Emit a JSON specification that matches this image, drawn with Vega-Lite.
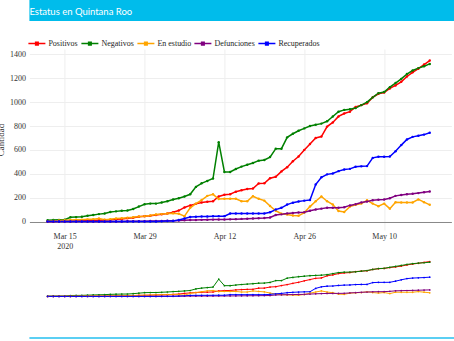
{
  "$schema": "https://vega.github.io/schema/vega-lite/v6.json",
  "padding": {"left": -3.6, "top": 0, "right": 0, "bottom": 0},
  "background": "white",
  "spacing": 13,
  "align": "none",
  "config": {
    "view": {"stroke": null},
    "font": "Liberation Serif"
  },
  "datasets": {
    "cases": [
      {"date": "2020-03-12T00:00:00", "Positivos": 0, "Negativos": 10, "En estudio": 3, "Defunciones": 0, "Recuperados": 0},
      {"date": "2020-03-13T00:00:00", "Positivos": 1, "Negativos": 12, "En estudio": 5, "Defunciones": 0, "Recuperados": 0},
      {"date": "2020-03-14T00:00:00", "Positivos": 2, "Negativos": 14, "En estudio": 8, "Defunciones": 0, "Recuperados": 0},
      {"date": "2020-03-15T00:00:00", "Positivos": 2, "Negativos": 15, "En estudio": 10, "Defunciones": 0, "Recuperados": 0},
      {"date": "2020-03-16T00:00:00", "Positivos": 3, "Negativos": 35, "En estudio": 12, "Defunciones": 0, "Recuperados": 0},
      {"date": "2020-03-17T00:00:00", "Positivos": 5, "Negativos": 37, "En estudio": 15, "Defunciones": 0, "Recuperados": 0},
      {"date": "2020-03-18T00:00:00", "Positivos": 6, "Negativos": 40, "En estudio": 15, "Defunciones": 0, "Recuperados": 0},
      {"date": "2020-03-19T00:00:00", "Positivos": 8, "Negativos": 48, "En estudio": 18, "Defunciones": 0, "Recuperados": 0},
      {"date": "2020-03-20T00:00:00", "Positivos": 9, "Negativos": 55, "En estudio": 20, "Defunciones": 0, "Recuperados": 0},
      {"date": "2020-03-21T00:00:00", "Positivos": 10, "Negativos": 62, "En estudio": 25, "Defunciones": 0, "Recuperados": 0},
      {"date": "2020-03-22T00:00:00", "Positivos": 12, "Negativos": 68, "En estudio": 15, "Defunciones": 0, "Recuperados": 0},
      {"date": "2020-03-23T00:00:00", "Positivos": 14, "Negativos": 80, "En estudio": 20, "Defunciones": 1, "Recuperados": 0},
      {"date": "2020-03-24T00:00:00", "Positivos": 18, "Negativos": 85, "En estudio": 25, "Defunciones": 1, "Recuperados": 0},
      {"date": "2020-03-25T00:00:00", "Positivos": 22, "Negativos": 90, "En estudio": 28, "Defunciones": 1, "Recuperados": 0},
      {"date": "2020-03-26T00:00:00", "Positivos": 28, "Negativos": 92, "En estudio": 32, "Defunciones": 2, "Recuperados": 0},
      {"date": "2020-03-27T00:00:00", "Positivos": 32, "Negativos": 105, "En estudio": 35, "Defunciones": 2, "Recuperados": 0},
      {"date": "2020-03-28T00:00:00", "Positivos": 40, "Negativos": 125, "En estudio": 42, "Defunciones": 3, "Recuperados": 0},
      {"date": "2020-03-29T00:00:00", "Positivos": 44, "Negativos": 145, "En estudio": 45, "Defunciones": 3, "Recuperados": 0},
      {"date": "2020-03-30T00:00:00", "Positivos": 48, "Negativos": 150, "En estudio": 50, "Defunciones": 4, "Recuperados": 0},
      {"date": "2020-03-31T00:00:00", "Positivos": 55, "Negativos": 150, "En estudio": 58, "Defunciones": 4, "Recuperados": 0},
      {"date": "2020-04-01T00:00:00", "Positivos": 60, "Negativos": 160, "En estudio": 62, "Defunciones": 5, "Recuperados": 2},
      {"date": "2020-04-02T00:00:00", "Positivos": 68, "Negativos": 170, "En estudio": 68, "Defunciones": 6, "Recuperados": 4},
      {"date": "2020-04-03T00:00:00", "Positivos": 78, "Negativos": 185, "En estudio": 70, "Defunciones": 7, "Recuperados": 5},
      {"date": "2020-04-04T00:00:00", "Positivos": 92, "Negativos": 195, "En estudio": 65, "Defunciones": 8, "Recuperados": 12},
      {"date": "2020-04-05T00:00:00", "Positivos": 118, "Negativos": 210, "En estudio": 45, "Defunciones": 10, "Recuperados": 25},
      {"date": "2020-04-06T00:00:00", "Positivos": 135, "Negativos": 228, "En estudio": 115, "Defunciones": 12, "Recuperados": 38},
      {"date": "2020-04-07T00:00:00", "Positivos": 148, "Negativos": 290, "En estudio": 150, "Defunciones": 13, "Recuperados": 40},
      {"date": "2020-04-08T00:00:00", "Positivos": 160, "Negativos": 320, "En estudio": 180, "Defunciones": 14, "Recuperados": 42},
      {"date": "2020-04-09T00:00:00", "Positivos": 165, "Negativos": 340, "En estudio": 215, "Defunciones": 15, "Recuperados": 42},
      {"date": "2020-04-10T00:00:00", "Positivos": 170, "Negativos": 360, "En estudio": 228, "Defunciones": 16, "Recuperados": 44},
      {"date": "2020-04-11T00:00:00", "Positivos": 210, "Negativos": 665, "En estudio": 188, "Defunciones": 17, "Recuperados": 45},
      {"date": "2020-04-12T00:00:00", "Positivos": 225, "Negativos": 415, "En estudio": 190, "Defunciones": 17, "Recuperados": 45},
      {"date": "2020-04-13T00:00:00", "Positivos": 228, "Negativos": 415, "En estudio": 190, "Defunciones": 18, "Recuperados": 67},
      {"date": "2020-04-14T00:00:00", "Positivos": 250, "Negativos": 440, "En estudio": 190, "Defunciones": 20, "Recuperados": 67},
      {"date": "2020-04-15T00:00:00", "Positivos": 262, "Negativos": 460, "En estudio": 170, "Defunciones": 22, "Recuperados": 67},
      {"date": "2020-04-16T00:00:00", "Positivos": 272, "Negativos": 475, "En estudio": 170, "Defunciones": 24, "Recuperados": 67},
      {"date": "2020-04-17T00:00:00", "Positivos": 276, "Negativos": 490, "En estudio": 212, "Defunciones": 26, "Recuperados": 67},
      {"date": "2020-04-18T00:00:00", "Positivos": 318, "Negativos": 510, "En estudio": 190, "Defunciones": 28, "Recuperados": 67},
      {"date": "2020-04-19T00:00:00", "Positivos": 320, "Negativos": 515, "En estudio": 175, "Defunciones": 30, "Recuperados": 67},
      {"date": "2020-04-20T00:00:00", "Positivos": 362, "Negativos": 540, "En estudio": 130, "Defunciones": 34, "Recuperados": 78},
      {"date": "2020-04-21T00:00:00", "Positivos": 375, "Negativos": 610, "En estudio": 90, "Defunciones": 55, "Recuperados": 100},
      {"date": "2020-04-22T00:00:00", "Positivos": 420, "Negativos": 610, "En estudio": 65, "Defunciones": 60, "Recuperados": 115},
      {"date": "2020-04-23T00:00:00", "Positivos": 455, "Negativos": 705, "En estudio": 58, "Defunciones": 68, "Recuperados": 142},
      {"date": "2020-04-24T00:00:00", "Positivos": 505, "Negativos": 735, "En estudio": 50, "Defunciones": 72, "Recuperados": 158},
      {"date": "2020-04-25T00:00:00", "Positivos": 545, "Negativos": 760, "En estudio": 48, "Defunciones": 75, "Recuperados": 168},
      {"date": "2020-04-26T00:00:00", "Positivos": 600, "Negativos": 780, "En estudio": 75, "Defunciones": 78, "Recuperados": 175},
      {"date": "2020-04-27T00:00:00", "Positivos": 650, "Negativos": 800, "En estudio": 125, "Defunciones": 90, "Recuperados": 180},
      {"date": "2020-04-28T00:00:00", "Positivos": 700, "Negativos": 810, "En estudio": 170, "Defunciones": 100, "Recuperados": 310},
      {"date": "2020-04-29T00:00:00", "Positivos": 712, "Negativos": 820, "En estudio": 210, "Defunciones": 108, "Recuperados": 370},
      {"date": "2020-04-30T00:00:00", "Positivos": 795, "Negativos": 840, "En estudio": 170, "Defunciones": 115, "Recuperados": 395},
      {"date": "2020-05-01T00:00:00", "Positivos": 830, "Negativos": 880, "En estudio": 142, "Defunciones": 115, "Recuperados": 402},
      {"date": "2020-05-02T00:00:00", "Positivos": 880, "Negativos": 920, "En estudio": 88, "Defunciones": 116, "Recuperados": 422},
      {"date": "2020-05-03T00:00:00", "Positivos": 905, "Negativos": 935, "En estudio": 80, "Defunciones": 120, "Recuperados": 436},
      {"date": "2020-05-04T00:00:00", "Positivos": 920, "Negativos": 940, "En estudio": 125, "Defunciones": 135, "Recuperados": 441},
      {"date": "2020-05-05T00:00:00", "Positivos": 960, "Negativos": 950, "En estudio": 140, "Defunciones": 145, "Recuperados": 458},
      {"date": "2020-05-06T00:00:00", "Positivos": 975, "Negativos": 975, "En estudio": 150, "Defunciones": 160, "Recuperados": 462},
      {"date": "2020-05-07T00:00:00", "Positivos": 990, "Negativos": 1000, "En estudio": 178, "Defunciones": 168, "Recuperados": 464},
      {"date": "2020-05-08T00:00:00", "Positivos": 1040, "Negativos": 1040, "En estudio": 150, "Defunciones": 178, "Recuperados": 533},
      {"date": "2020-05-09T00:00:00", "Positivos": 1070, "Negativos": 1075, "En estudio": 128, "Defunciones": 182, "Recuperados": 542},
      {"date": "2020-05-10T00:00:00", "Positivos": 1080, "Negativos": 1085, "En estudio": 150, "Defunciones": 184, "Recuperados": 542},
      {"date": "2020-05-11T00:00:00", "Positivos": 1115, "Negativos": 1125, "En estudio": 108, "Defunciones": 195, "Recuperados": 545},
      {"date": "2020-05-12T00:00:00", "Positivos": 1140, "Negativos": 1160, "En estudio": 162, "Defunciones": 215, "Recuperados": 589},
      {"date": "2020-05-13T00:00:00", "Positivos": 1170, "Negativos": 1195, "En estudio": 160, "Defunciones": 222, "Recuperados": 640},
      {"date": "2020-05-14T00:00:00", "Positivos": 1215, "Negativos": 1235, "En estudio": 160, "Defunciones": 228, "Recuperados": 687},
      {"date": "2020-05-15T00:00:00", "Positivos": 1250, "Negativos": 1265, "En estudio": 160, "Defunciones": 232, "Recuperados": 709},
      {"date": "2020-05-16T00:00:00", "Positivos": 1280, "Negativos": 1285, "En estudio": 185, "Defunciones": 238, "Recuperados": 718},
      {"date": "2020-05-17T00:00:00", "Positivos": 1315, "Negativos": 1300, "En estudio": 162, "Defunciones": 245, "Recuperados": 728},
      {"date": "2020-05-18T00:00:00", "Positivos": 1348, "Negativos": 1320, "En estudio": 140, "Defunciones": 251, "Recuperados": 743}
    ]
  },
  "vconcat": [
    {
      "width": 458,
      "height": 21,
      "data": {"values": [{"t": ""}]},
      "mark": {"type": "text", "opacity": 0},
      "encoding": {"text": {"field": "t"}},
      "view": {"fill": "#00BCEB", "stroke": null},
      "title": {
        "text": "Estatus en Quintana Roo",
        "anchor": "start",
        "frame": "group",
        "orient": "top",
        "offset": -16,
        "baseline": "top",
        "color": "white",
        "font": "Lato",
        "fontSize": 9.5,
        "fontWeight": "normal"
      }
    },
    {
      "bounds": "flush",
      "spacing": 29,
      "resolve": {"scale": {"color": "independent"}},
      "vconcat": [
        {
          "width": 422,
          "height": 181,
          "data": {"name": "cases"},
          "transform": [
            {"fold": ["Positivos", "Negativos", "En estudio", "Defunciones", "Recuperados"], "as": ["series", "value"]}
          ],
          "mark": {"type": "line", "strokeWidth": 1.5, "point": {"filled": true, "size": 6}},
          "encoding": {
            "x": {
              "field": "date",
              "type": "temporal",
              "scale": {"domain": ["2020-03-08T19:24:00", "2020-05-21T19:00:00"]},
              "axis": {
                "title": null,
                "values": ["2020-03-15T00:00:00", "2020-03-29T00:00:00", "2020-04-12T00:00:00", "2020-04-26T00:00:00", "2020-05-10T00:00:00"],
                "labelExpr": "month(datum.value) == 2 && date(datum.value) == 15 ? ['Mar 15', '2020'] : timeFormat(datum.value, '%b ') + date(datum.value)",
                "grid": true,
                "gridColor": "#eeeeee",
                "ticks": false,
                "domain": false,
                "labelFont": "Liberation Serif",
                "labelFontSize": 8,
                "labelColor": "#333333",
                "labelPadding": 3,
                "labelLineHeight": 9.7,
                "labelFlush": false,
                "labelOverlap": false
              }
            },
            "y": {
              "field": "value",
              "type": "quantitative",
              "scale": {"domain": [-71, 1445], "nice": false, "zero": false},
              "axis": {
                "values": [0, 200, 400, 600, 800, 1000, 1200, 1400],
                "tickCount": 8,
                "format": "d",
                "labelOverlap": false,
                "labelFlush": false,
                "grid": true,
                "gridColor": {"condition": {"test": "datum.value === 0", "value": "#888888"}, "value": "#eeeeee"},
                "ticks": false,
                "domain": false,
                "labelFont": "Liberation Serif",
                "labelFontSize": 8,
                "labelColor": "#333333",
                "labelPadding": 4,
                "title": "Cantidad",
                "titleFont": "Liberation Serif",
                "titleFontSize": 9,
                "titleFontWeight": "normal",
                "titleColor": "#333333",
                "titlePadding": 4
              }
            },
            "color": {
              "field": "series",
              "type": "nominal",
              "scale": {
                "domain": ["Positivos", "Negativos", "En estudio", "Defunciones", "Recuperados"],
                "range": ["#FF0000", "#008000", "#FFA500", "#800080", "#0000FF"]
              },
              "legend": {
                "orient": "none",
                "legendX": -2,
                "legendY": -15,
                "direction": "horizontal",
                "title": null,
                "padding": 0,
                "labelFont": "Liberation Serif",
                "labelFontSize": 8,
                "labelColor": "#222222",
                "symbolType": "M-1,0L1,0M-0.15,-0.15L0.15,-0.15L0.15,0.15L-0.15,0.15Z",
                "symbolSize": 289,
                "symbolStrokeWidth": 1.5,
                "labelOffset": 2,
                "columnPadding": 0
              }
            }
          }
        },
        {
          "width": 422,
          "height": 60,
          "data": {"name": "cases"},
          "transform": [
            {"fold": ["Positivos", "Negativos", "En estudio", "Defunciones", "Recuperados"], "as": ["series", "value"]}
          ],
          "mark": {"type": "line", "strokeWidth": 1, "point": {"filled": true, "size": 3}},
          "encoding": {
            "x": {
              "field": "date",
              "type": "temporal",
              "scale": {"domain": ["2020-03-08T19:24:00", "2020-05-21T19:00:00"]},
              "axis": null
            },
            "y": {
              "field": "value",
              "type": "quantitative",
              "scale": {"domain": [-873, 1445], "nice": false, "zero": false},
              "axis": null
            },
            "color": {
              "field": "series",
              "type": "nominal",
              "scale": {
                "domain": ["Positivos", "Negativos", "En estudio", "Defunciones", "Recuperados"],
                "range": ["#FF0000", "#008000", "#FFA500", "#800080", "#0000FF"]
              },
              "legend": null
            }
          }
        }
      ]
    },
    {
      "width": 458,
      "height": 2,
      "data": {"values": [{"t": ""}]},
      "mark": {"type": "text", "opacity": 0},
      "encoding": {"text": {"field": "t"}},
      "view": {"fill": "#5BCFF3", "stroke": null}
    }
  ]
}
